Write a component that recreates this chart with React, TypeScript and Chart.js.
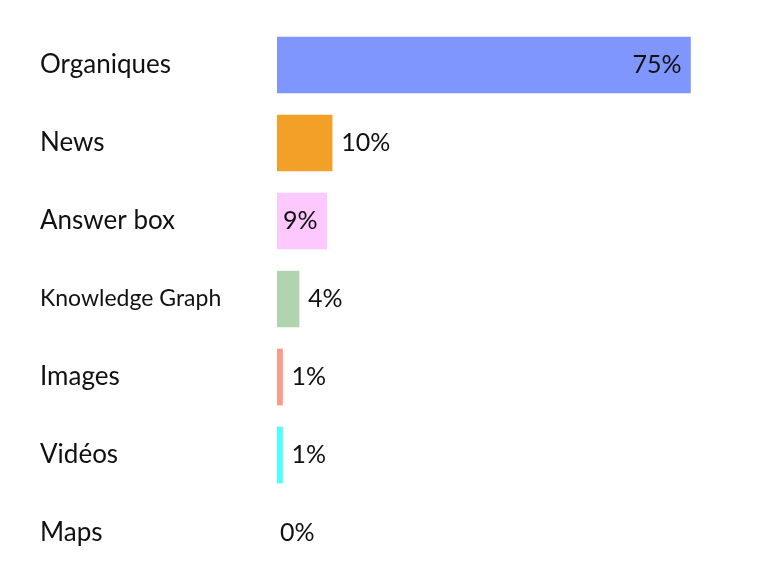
import { useEffect, useRef } from 'react';
import { Chart, registerables } from 'chart.js';

Chart.register(...registerables);

const categories = ['Organiques', 'News', 'Answer box', 'Knowledge Graph', 'Images', 'Vidéos', 'Maps'];
const shares = [75, 10, 9, 4, 1, 1, 0];
const barColors = ['#7f96ff', '#f2a027', '#fdc8fd', '#afd4ae', '#ff9a8b', '#4dffff', 'rgba(0,0,0,0)'];

const FONT = 'Lato, "Noto Sans", sans-serif';

// étiquettes de valeur : dans la barre si ça rentre, sinon juste après
const valueLabels = {
  id: 'valueLabels',
  afterDatasetsDraw(chart: Chart) {
    const { ctx } = chart;
    const meta = chart.getDatasetMeta(0);
    ctx.save();
    ctx.font = `25px ${FONT}`;
    ctx.fillStyle = '#111';
    ctx.textBaseline = 'middle';
    meta.data.forEach((bar: any, i: number) => {
      const text = `${shares[i]}%`;
      const w = ctx.measureText(text).width;
      const left = Math.min(bar.x, bar.base);
      const right = Math.max(bar.x, bar.base);
      if (right - left >= w + 10) {
        ctx.textAlign = 'right';
        ctx.fillText(text, right - 9, bar.y);
      } else {
        ctx.textAlign = 'left';
        ctx.fillText(text, right + (shares[i] > 0 ? 9 : 3), bar.y);
      }
    });
    ctx.restore();
  },
};

const App = () => {
  const canvasRef = useRef<HTMLCanvasElement>(null);
  const chartRef = useRef<Chart | null>(null);

  useEffect(() => {
    if (!canvasRef.current) return;
    if (chartRef.current) chartRef.current.destroy();

    chartRef.current = new Chart(canvasRef.current, {
      type: 'bar',
      data: {
        labels: categories,
        datasets: [
          {
            data: shares,
            backgroundColor: barColors,
            borderWidth: 0,
            barThickness: 56,
          },
        ],
      },
      options: {
        indexAxis: 'y',
        animation: false,
        responsive: false,
        layout: { padding: { left: 40, right: 49, top: 26, bottom: 7 } },
        plugins: {
          legend: { display: false },
          tooltip: { enabled: false },
        },
        scales: {
          x: {
            display: false,
            min: 0,
            max: 80,
          },
          y: {
            grid: { display: false },
            border: { display: false },
            ticks: {
              crossAlign: 'far',
              color: '#111',
              font: (c: any) => ({ family: FONT, size: c.index === 3 ? 23 : 26 }),
            },
            afterFit: (scale: any) => {
              scale.width = 237;
              scale.paddingTop = 0;
              scale.paddingBottom = 0;
            },
          },
        },
      },
      plugins: [valueLabels],
    });

    return () => {
      if (chartRef.current) {
        chartRef.current.destroy();
        chartRef.current = null;
      }
    };
  }, []);

  return (
    <div style={{ position: 'absolute', left: 0, top: 0, width: 767, height: 579, background: '#fff' }}>
      <canvas ref={canvasRef} width={767} height={579} style={{ display: 'block' }}></canvas>
    </div>
  );
};

export default App;
